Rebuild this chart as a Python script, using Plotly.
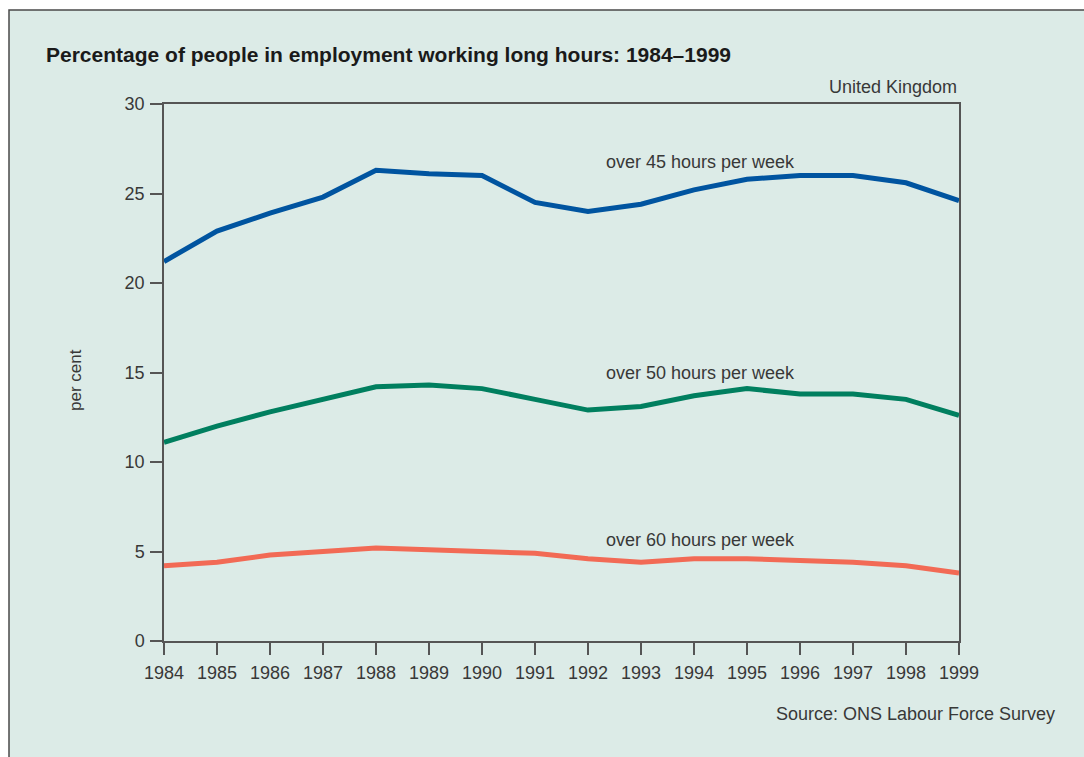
import plotly.graph_objects as go

years = list(range(1984, 2000))
over_45 = [21.2, 22.9, 23.9, 24.8, 26.3, 26.1, 26.0, 24.5, 24.0, 24.4, 25.2, 25.8, 26.0, 26.0, 25.6, 24.6]
over_50 = [11.1, 12.0, 12.8, 13.5, 14.2, 14.3, 14.1, 13.5, 12.9, 13.1, 13.7, 14.1, 13.8, 13.8, 13.5, 12.6]
over_60 = [4.2, 4.4, 4.8, 5.0, 5.2, 5.1, 5.0, 4.9, 4.6, 4.4, 4.6, 4.6, 4.5, 4.4, 4.2, 3.8]

series = [
    ("over 45 hours per week", over_45, "#0054a0", 26.75),
    ("over 50 hours per week", over_50, "#007f5f", 14.95),
    ("over 60 hours per week", over_60, "#f26a55", 5.65),
]

W, H = 1084, 757
L, R, T, B = 164, 959, 104, 641
pw, ph = R - L, B - T


def px(x):
    return (x - L) / pw


def py(y):
    return (B - y) / ph


FONT = "Liberation Sans, Arial, sans-serif"
TXT = "#383838"
BG = "#dcebe7"

fig = go.Figure()
for name, vals, color, label_y in series:
    fig.add_trace(go.Scatter(
        x=years, y=vals, mode="lines", name=name,
        line=dict(color=color, width=5), showlegend=False,
    ))
    fig.add_annotation(
        x=1992.3, y=label_y, xref="x", yref="y", text=name, showarrow=False,
        xanchor="left", yanchor="middle", font=dict(family=FONT, size=18, color=TXT),
    )

# Background panel with a border on the visible top and left edges
fig.add_shape(
    type="rect", xref="paper", yref="paper",
    x0=px(9), x1=px(W + 20), y0=py(H + 20), y1=py(10),
    fillcolor=BG, line=dict(color="#4a4a4a", width=1.5), layer="below",
)

fig.add_annotation(
    x=px(44), y=py(55), xref="paper", yref="paper",
    text="<b>Percentage of people in employment working long hours: 1984\u20131999</b>",
    showarrow=False, xanchor="left", yanchor="middle",
    font=dict(family=FONT, size=21, color="#1a1a1a"),
)
fig.add_annotation(
    x=1, y=py(87), xref="paper", yref="paper", text="United Kingdom",
    showarrow=False, xanchor="right", yanchor="middle",
    font=dict(family=FONT, size=18, color=TXT),
)
fig.add_annotation(
    x=px(1057), y=py(714), xref="paper", yref="paper",
    text="Source: ONS Labour Force Survey",
    showarrow=False, xanchor="right", yanchor="middle",
    font=dict(family=FONT, size=18, color=TXT),
)
fig.add_annotation(
    x=px(75), y=py(380), xref="paper", yref="paper", text="per cent",
    showarrow=False, textangle=-90, xanchor="center", yanchor="middle",
    font=dict(family=FONT, size=17, color=TXT),
)

axis_common = dict(
    showgrid=False, zeroline=False, showline=True, linecolor="#555555",
    linewidth=1.5, mirror=True, ticks="outside", ticklen=12, tickwidth=1.5,
    tickcolor="#555555", tickfont=dict(family=FONT, size=18, color=TXT),
)

fig.update_layout(
    width=W, height=H,
    margin=dict(l=L, r=W - R, t=T, b=H - B),
    paper_bgcolor="white", plot_bgcolor="rgba(0,0,0,0)",
    xaxis=dict(range=[1984, 1999], tickmode="array", tickvals=years,
               ticktext=[str(y) for y in years], ticklabelstandoff=3,
               **axis_common),
    yaxis=dict(range=[0, 30], tickvals=[0, 5, 10, 15, 20, 25, 30],
               ticklabelstandoff=2, **axis_common),
)

fig.write_html("out.html")
